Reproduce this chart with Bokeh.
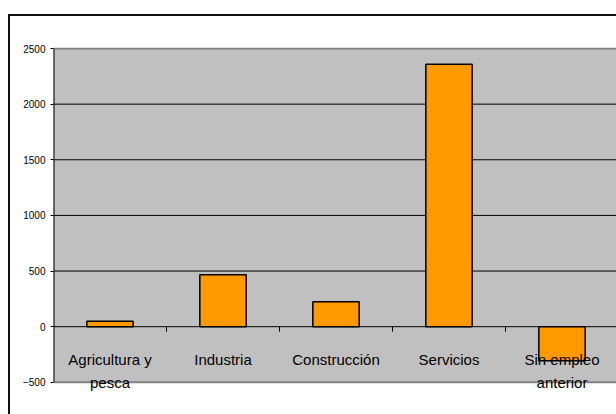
from bokeh.plotting import figure
from bokeh.models import FactorRange, Range1d, FixedTicker
from bokeh.core.properties import value
from bokeh.embed import file_html
from bokeh.resources import INLINE

categories = ["Agricultura y pesca", "Industria", "Construcción", "Servicios", "Sin empleo anterior"]
label_texts = ["Agricultura y\npesca", "Industria", "Construcción", "Servicios", "Sin empleo\nanterior"]
values = [50, 467, 225, 2358, -305]
y_ticks = [-500, 0, 500, 1000, 1500, 2000, 2500]
y_min, y_max = -500, 2500
boundaries = [0, 1, 2, 3, 4, 5]

FONT = "Liberation Sans"

p = figure(
    width=608, height=400,
    x_range=FactorRange(factors=categories, range_padding=0),
    y_range=Range1d(-789, 2509),
    output_backend="svg", toolbar_location=None,
    min_border_left=43, min_border_right=0, min_border_top=31, min_border_bottom=2,
)
p.styles = {"border-left": "2px solid #111", "border-top": "2px solid #111",
            "margin-top": "14px", "margin-left": "8px"}

p.background_fill_color = "white"
p.border_fill_color = "white"
p.outline_line_color = None

p.xgrid.visible = False
p.ygrid.visible = False
p.xaxis.visible = False

yax = p.yaxis[0]
yax.ticker = FixedTicker(ticks=y_ticks)
yax.axis_line_color = None
yax.major_tick_out = 3
yax.major_tick_in = 0
yax.minor_tick_line_color = None
yax.major_tick_line_color = "black"
yax.major_label_text_font = FONT
yax.major_label_text_font_size = "10px"
yax.major_label_text_color = "black"
yax.major_label_standoff = 5

# grey plot area between -500 and 2500
p.quad(left=[-0.2], right=[5.2], bottom=[y_min], top=[y_max], fill_color="#C0C0C0", line_color=None)
# horizontal gridlines
grid_vals = y_ticks[1:-1]
p.segment(x0=[0] * len(grid_vals), x1=[5.2] * len(grid_vals), y0=grid_vals, y1=grid_vals,
          line_color="black", line_width=1)
# plot-area borders (top and bottom grey)
p.segment(x0=[0, 0], x1=[5.2, 5.2], y0=[y_max, y_min], y1=[y_max, y_min], line_color="#808080", line_width=2)
# value axis line
p.segment(x0=[0], x1=[0], y0=[y_min], y1=[y_max], line_color="black", line_width=2)
# category boundary ticks below the zero line
p.segment(x0=boundaries[1:], x1=boundaries[1:], y0=[0] * 4, y1=[-45] * 4, line_color="black", line_width=1)

p.vbar(x=categories, top=values, bottom=0, width=0.41,
       fill_color="#FF9900", line_color="black", line_width=1.5)

p.text(x=categories, y=[0] * 5, text=label_texts, y_offset=24,
       text_align="center", text_baseline="top",
       text_font=value(FONT), text_font_size="15px", text_color="black",
       text_line_height=1.4)

open("out.html", "w").write(file_html(p, INLINE))
